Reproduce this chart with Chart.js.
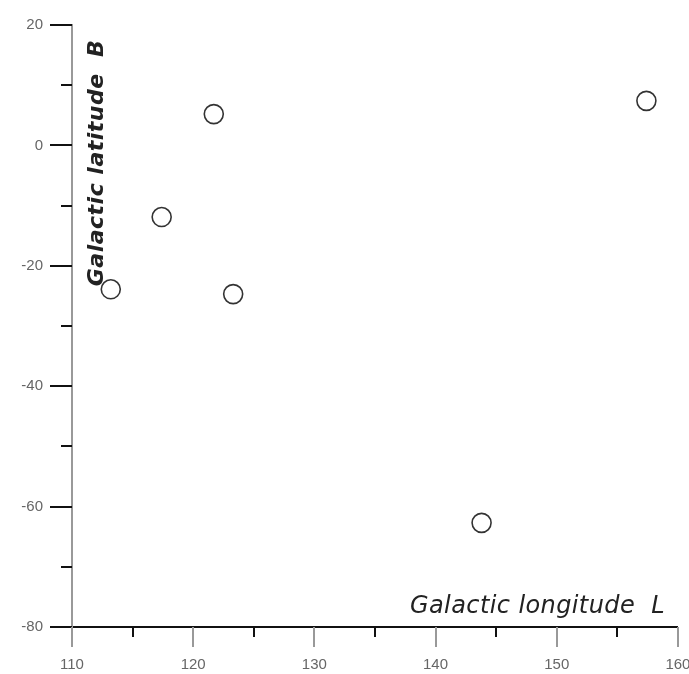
<!DOCTYPE html>
<html>
<head>
<meta charset="utf-8">
<script src="https://cdn.jsdelivr.net/npm/chart.js@4.4.1/dist/chart.umd.min.js"></script>
<style>
  html, body { margin: 0; padding: 0; background: #fff; }
  #wrap { width: 689px; height: 674px; }
</style>
</head>
<body>
<div id="wrap"><canvas id="myChart" width="689" height="674"></canvas></div>
<script>
// --- data ---
const longitude = [113.2, 117.4, 121.7, 123.3, 143.8, 157.4];
const latitude  = [-23.9, -11.9, 5.2, -24.7, -62.7, 7.4];
const xTicks = [110, 120, 130, 140, 150, 160];
const yTicks = [20, 0, -20, -40, -60, -80];
const xMinor = [115, 125, 135, 145, 155];
const yMinor = [10, -10, -30, -50, -70];

const points = longitude.map((l, i) => ({ x: l, y: latitude[i] }));

// ticks + axis titles drawn on top of the chart area
const axisDecor = {
  id: 'axisDecor',
  afterDraw(chart) {
    const { ctx, chartArea, scales } = chart;
    const xs = scales.x, ys = scales.y;
    ctx.save();
    // y ticks (to the left)
    ctx.strokeStyle = '#111';
    ctx.lineWidth = 2;
    yTicks.forEach(v => {
      const p = Math.round(ys.getPixelForValue(v));
      ctx.beginPath(); ctx.moveTo(chartArea.left - 22, p); ctx.lineTo(chartArea.left, p); ctx.stroke();
    });
    yMinor.forEach(v => {
      const p = Math.round(ys.getPixelForValue(v));
      ctx.beginPath(); ctx.moveTo(chartArea.left - 11, p); ctx.lineTo(chartArea.left, p); ctx.stroke();
    });
    // x ticks (downwards)
    ctx.strokeStyle = '#999';
    xTicks.forEach(v => {
      const p = Math.round(xs.getPixelForValue(v));
      ctx.beginPath(); ctx.moveTo(p, chartArea.bottom); ctx.lineTo(p, chartArea.bottom + 20); ctx.stroke();
    });
    ctx.strokeStyle = '#111';
    xMinor.forEach(v => {
      const p = Math.round(xs.getPixelForValue(v));
      ctx.beginPath(); ctx.moveTo(p, chartArea.bottom); ctx.lineTo(p, chartArea.bottom + 10); ctx.stroke();
    });

    // titles sit inside the plot
    ctx.fillStyle = '#222';
    ctx.font = 'oblique 24px "DejaVu Sans"';
    ctx.letterSpacing = '0.4px';
    ctx.textAlign = 'right';
    ctx.textBaseline = 'alphabetic';
    ctx.fillText('Galactic longitude  L', chartArea.right - 13, chartArea.bottom - 14);

    ctx.translate(chartArea.left + 31, chartArea.top + 138);
    ctx.rotate(-Math.PI / 2);
    ctx.font = 'bold oblique 22px "DejaVu Sans"';
    ctx.letterSpacing = '0.5px';
    ctx.textAlign = 'center';
    ctx.fillText('Galactic latitude  B', 0, 0);
    ctx.restore();
  }
};

const ctx = document.getElementById('myChart').getContext('2d');
new Chart(ctx, {
  type: 'scatter',
  data: {
    datasets: [{
      data: points,
      pointRadius: 9.5,
      pointHoverRadius: 9.5,
      pointBorderWidth: 1.6,
      pointBorderColor: '#333',
      pointBackgroundColor: '#fff'
    }]
  },
  options: {
    responsive: false,
    animation: false,
    events: [],
    layout: { padding: { top: 25, right: 11, left: 0, bottom: 0 } },
    plugins: { legend: { display: false }, tooltip: { enabled: false } },
    scales: {
      x: {
        type: 'linear', min: 110, max: 160,
        afterBuildTicks: s => { s.ticks = xTicks.map(v => ({ value: v })); },
        afterFit: s => { s.height = 47; s.paddingLeft = 0; s.paddingRight = 0; },
        grid: { display: false, drawTicks: false, tickLength: 0 },
        border: { display: true, color: '#111', width: 2 },
        ticks: { color: '#666', padding: 29, maxRotation: 0, font: { family: '"Liberation Sans"', size: 15 } }
      },
      y: {
        type: 'linear', min: -80, max: 20,
        afterBuildTicks: s => { s.ticks = yTicks.map(v => ({ value: v })); },
        afterFit: s => { s.width = 72; s.paddingTop = 0; s.paddingBottom = 0; },
        grid: { display: false, drawTicks: false, tickLength: 0 },
        border: { display: true, color: '#999', width: 2 },
        ticks: { color: '#666', padding: 29, font: { family: '"Liberation Sans"', size: 15 } }
      }
    }
  },
  plugins: [axisDecor]
});
</script>
</body>
</html>
